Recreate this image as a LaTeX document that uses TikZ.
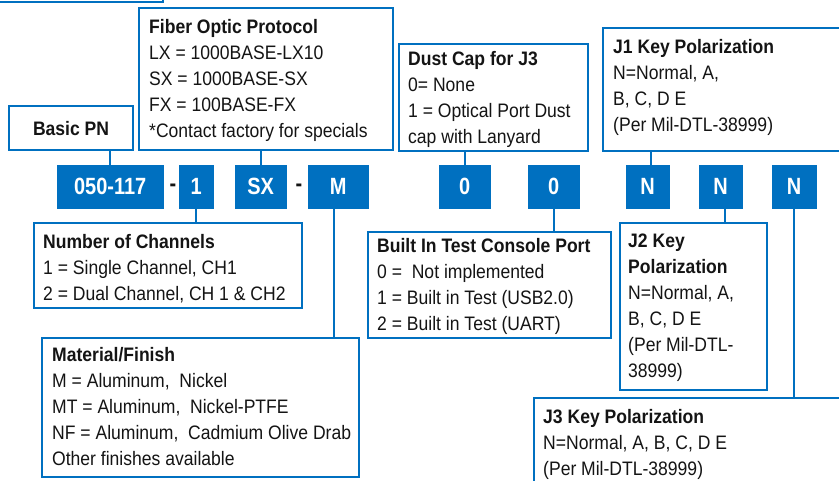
\documentclass[tikz,border=0pt]{standalone}
\usepackage{fontspec}
\usepackage{tikz}
\setmainfont{Liberation Sans}
\newfontfamily\infofont[FakeStretch=0.9]{Liberation Sans}
\newfontfamily\pnfont[FakeStretch=0.85]{Liberation Sans}
\definecolor{pnblue}{HTML}{0070C0}
\definecolor{inkblack}{HTML}{141414}
\tikzset{
  infobox/.style={draw=pnblue,line width=2.2pt,fill=white,inner sep=0pt,
                  anchor=north west},
  infotext/.style={anchor=north west,align=left,inner sep=0pt,text=inkblack,
                   font=\fontsize{19.5}{26}\selectfont\infofont},
  pnbox/.style={draw=pnblue,fill=pnblue,text=white,inner sep=0pt,
                anchor=north west,minimum height=43,
                font=\fontsize{23.5}{26}\selectfont\pnfont\bfseries},
  hyph/.style={text=inkblack,inner sep=0pt,
               font=\fontsize{23.5}{26}\selectfont\pnfont\bfseries},
  tie/.style={draw=pnblue,line width=2.2pt}
}

\begin{document}
\begin{tikzpicture}[x=1pt,y=-1pt]
  \useasboundingbox (0,0) rectangle (839,481);

  % part number fields
  \node[pnbox,minimum width=106] (p1) at (57,165) {050-117};
  \node[pnbox,minimum width=34] (p2) at (179,165) {1};
  \node[pnbox,minimum width=51] (p3) at (235,165) {SX};
  \node[pnbox,minimum width=60] (p4) at (308,165) {M};
  \node[pnbox,minimum width=51] (p5) at (439,165) {0};
  \node[pnbox,minimum width=51] (p6) at (528,165) {0};
  \node[pnbox,minimum width=43] (p7) at (626,165) {N};
  \node[pnbox,minimum width=43] (p8) at (699,165) {N};
  \node[pnbox,minimum width=44] (p9) at (772,165) {N};
  \node[hyph] (h1) at (173,188) {-};
  \node[hyph] (h2) at (299,188) {-};

  % description boxes
  \node[infobox,minimum width=182,minimum height=61] (top) at (-20,-60) {};
  \node[infobox,minimum width=124,minimum height=44,anchor=north west,
        font=\fontsize{19.5}{26}\selectfont\infofont\bfseries,text=inkblack]
        (basic) at (8,105) {Basic PN};
  \node[infobox,minimum width=254,minimum height=142] (fiber) at (138,7) {};
  \node[infobox,minimum width=189,minimum height=107] (dust) at (398,43) {};
  \node[infobox,minimum width=260,minimum height=123] (jone) at (602,27) {};
  \node[infobox,minimum width=268,minimum height=85] (chan) at (33,222) {};
  \node[infobox,minimum width=317,minimum height=139] (mat) at (41,337) {};
  \node[infobox,minimum width=243,minimum height=106] (bit) at (367,231) {};
  \node[infobox,minimum width=147,minimum height=167] (jtwo) at (619,222) {};
  \node[infobox,minimum width=330,minimum height=110] (jthree) at (533,397) {};

  \node[infotext] (fibertxt) at (149,19)
    {\textbf{Fiber Optic Protocol}\\LX = 1000BASE-LX10\\SX = 1000BASE-SX\\
     FX = 100BASE-FX\\*Contact factory for specials};
  \node[infotext] (dusttxt) at (408,51)
    {\textbf{Dust Cap for J3}\\0= None\\1 = Optical Port Dust\\cap with Lanyard};
  \node[infotext] (jonetxt) at (613,39)
    {\textbf{J1 Key Polarization}\\N=Normal, A,\\B, C, D E\\(Per Mil-DTL-38999)};
  \node[infotext] (chantxt) at (43,234)
    {\textbf{Number of Channels}\\1 = Single Channel, CH1\\
     2 = Dual Channel, CH 1 \& CH2};
  \node[infotext] (mattxt) at (52,347)
    {\textbf{Material/Finish}\\M = Aluminum, \ Nickel\\MT = Aluminum, \ Nickel-PTFE\\
     NF = Aluminum, \ Cadmium Olive Drab\\Other finishes available};
  \node[infotext] (bittxt) at (377,238)
    {\textbf{Built In Test Console Port}\\0 = \ Not implemented\\
     1 = Built in Test (USB2.0)\\2 = Built in Test (UART)};
  \node[infotext] (jtwotxt) at (628,234)
    {\textbf{J2 Key}\\\textbf{Polarization}\\N=Normal, A,\\B, C, D E\\
     (Per Mil-DTL-\\38999)};
  \node[infotext] (jthreetxt) at (543,409)
    {\textbf{J3 Key Polarization}\\N=Normal, A, B, C, D E\\(Per Mil-DTL-38999)};

  % leaders
  \draw[tie] (p1.north) -- (p1.north |- basic.south);
  \draw[tie] (p3.north) -- (p3.north |- fiber.south);
  \draw[tie] (p5.north) -- (p5.north |- dust.south);
  \draw[tie] ([xshift=3]p7.north) -- ([xshift=3]p7.north |- jone.south);
  \draw[tie] (p2.south) -- (p2.south |- chan.north);
  \draw[tie] ([xshift=-4]p4.south) -- ([xshift=-4]p4.south |- mat.north);
  \draw[tie] (p6.south) -- (p6.south |- bit.north);
  \draw[tie] ([xshift=4]p8.south) -- ([xshift=4]p8.south |- jtwo.north);
  \draw[tie] (p9.south) -- (p9.south |- jthree.north);
\end{tikzpicture}
\end{document}
